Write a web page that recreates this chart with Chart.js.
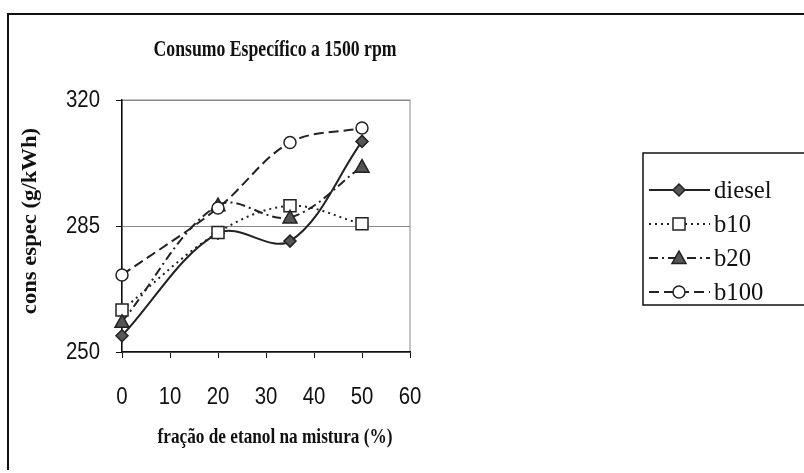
<!DOCTYPE html>
<html>
<head>
<meta charset="utf-8">
<script src="https://cdn.jsdelivr.net/npm/chart.js@4/dist/chart.umd.min.js"></script>
<style>
  html, body { margin: 0; padding: 0; background: #fff; }
  #wrap { width: 804px; height: 473px; }
</style>
</head>
<body>
<div id="wrap"><canvas id="grafico" width="804" height="473"></canvas></div>
<script>
// dados
const etanol = [0, 20, 35, 50];
const diesel = [254.5, 283, 280.8, 308.5];
const b10 = [261.7, 283.2, 290.6, 285.6];
const b20 = [258.4, 290.8, 287.4, 301.5];
const b100 = [271.4, 290.0, 308.2, 312.2];

const ticksX = [0, 10, 20, 30, 40, 50, 60];
const ticksY = [250, 285, 320];

const titulo = 'Consumo Específico a 1500 rpm';
const tituloX = 'fração de etanol na mistura (%)';
const tituloY = 'cons espec (g/kWh)';

const series = [
  { label: 'diesel', data: diesel, dash: [], style: 'rectRot', fill: '#555', radius: 6 },
  { label: 'b10', data: b10, dash: [2, 4], style: 'rect', fill: '#fff', radius: 6 },
  { label: 'b20', data: b20, dash: [9, 4, 2, 4], style: 'triangle', fill: '#555', radius: 7 },
  { label: 'b100', data: b100, dash: [10, 5], style: 'circle', fill: '#fff', radius: 6 }
];

// desenha um marcador simples
function marcador(ctx, s, x, y) {
  const r = s.radius;
  ctx.save();
  ctx.setLineDash([]);
  ctx.fillStyle = s.fill;
  ctx.strokeStyle = '#222';
  ctx.lineWidth = 1.5;
  ctx.beginPath();
  if (s.style === 'rectRot') {
    ctx.moveTo(x, y - r); ctx.lineTo(x + r, y); ctx.lineTo(x, y + r); ctx.lineTo(x - r, y);
    ctx.closePath();
  } else if (s.style === 'rect') {
    ctx.rect(x - r, y - r, 2 * r, 2 * r);
  } else if (s.style === 'triangle') {
    ctx.moveTo(x, y - r); ctx.lineTo(x + r, y + r * 0.8); ctx.lineTo(x - r, y + r * 0.8);
    ctx.closePath();
  } else {
    ctx.arc(x, y, r, 0, Math.PI * 2);
  }
  ctx.fill();
  ctx.stroke();
  ctx.restore();
}

// texto comprimido na horizontal (a fonte do original é estreita)
function texto(ctx, t, x, y, align, sx) {
  ctx.save();
  ctx.translate(x, y);
  ctx.scale(sx, 1);
  ctx.textAlign = align;
  ctx.fillText(t, 0, 0);
  ctx.restore();
}

// moldura, títulos, rótulos e legenda
const extras = {
  id: 'extras',
  beforeDraw(chart) {
    const ctx = chart.ctx;
    const a = chart.chartArea;
    ctx.save();
    ctx.fillStyle = '#fff';
    ctx.fillRect(0, 0, chart.width, chart.height);
    ctx.strokeStyle = '#888';
    ctx.lineWidth = 1;
    ctx.strokeRect(a.left, a.top, a.right - a.left, a.bottom - a.top);
    ctx.restore();
  },
  afterDraw(chart) {
    const ctx = chart.ctx;
    const xs = chart.scales.x, ys = chart.scales.y;
    ctx.save();
    // moldura externa
    ctx.strokeStyle = '#111';
    ctx.lineWidth = 2;
    ctx.beginPath();
    ctx.moveTo(8, 470); ctx.lineTo(8, 14); ctx.lineTo(804, 14);
    ctx.stroke();

    ctx.fillStyle = '#111';
    ctx.textBaseline = 'middle';
    ctx.font = 'bold 23px "Liberation Serif"';
    texto(ctx, titulo, 275, 50, 'center', 0.77);
    ctx.font = 'bold 21px "Liberation Serif"';
    texto(ctx, tituloX, 275, 438, 'center', 0.82);
    ctx.save();
    ctx.translate(30, 221);
    ctx.rotate(-Math.PI / 2);
    ctx.font = 'bold 22px "Liberation Serif"';
    texto(ctx, tituloY, 0, 0, 'center', 1.03);
    ctx.restore();

    // rótulos dos eixos
    ctx.font = '24px "Liberation Sans"';
    ticksX.forEach(v => texto(ctx, String(v), xs.getPixelForValue(v), 397, 'center', 0.85));
    ticksY.forEach(v => texto(ctx, String(v), 100, ys.getPixelForValue(v), 'right', 0.85));

    // legenda
    ctx.strokeStyle = '#111';
    ctx.lineWidth = 1.5;
    ctx.strokeRect(643, 153, 170, 152);
    ctx.font = '26px "Liberation Serif"';
    series.forEach((s, i) => {
      const y = 190 + i * 34;
      ctx.save();
      ctx.strokeStyle = '#222';
      ctx.lineWidth = 2;
      ctx.setLineDash(s.dash);
      ctx.beginPath();
      ctx.moveTo(649, y); ctx.lineTo(710, y);
      ctx.stroke();
      ctx.restore();
      marcador(ctx, s, 679, y);
      ctx.fillStyle = '#111';
      texto(ctx, s.label, 714, y + 1, 'left', 0.95);
    });
    ctx.restore();
  }
};

const ctx = document.getElementById('grafico').getContext('2d');
new Chart(ctx, {
  type: 'line',
  data: {
    datasets: series.map(s => ({
      label: s.label,
      data: s.data.map((v, i) => ({ x: etanol[i], y: v })),
      borderColor: '#222',
      borderWidth: 2,
      borderDash: s.dash,
      tension: 0.35,
      fill: false,
      pointStyle: false,
      pointRadius: 0
    }))
  },
  options: {
    responsive: false,
    animation: false,
    layout: { padding: { left: 62, right: 394, top: 100, bottom: 61 } },
    plugins: {
      legend: { display: false },
      tooltip: { enabled: false },
      title: { display: false }
    },
    scales: {
      x: {
        type: 'linear',
        min: ticksX[0], max: ticksX[ticksX.length - 1],
        afterFit(s) { s.height = 60; },
        ticks: { stepSize: 10, display: false },
        grid: { drawOnChartArea: false, tickLength: 6, color: '#111' },
        border: { color: '#111', width: 1.5 }
      },
      y: {
        min: ticksY[0], max: ticksY[ticksY.length - 1],
        afterFit(s) { s.width = 60; },
        ticks: { stepSize: 35, display: false },
        grid: { color: '#888', tickLength: 6, tickColor: '#111' },
        border: { color: '#111', width: 1.5 }
      }
    }
  },
  plugins: [extras, {
    id: 'marcadores',
    afterDatasetsDraw(chart) {
      const xs = chart.scales.x, ys = chart.scales.y;
      series.forEach(s => {
        s.data.forEach((v, i) => marcador(chart.ctx, s, xs.getPixelForValue(etanol[i]), ys.getPixelForValue(v)));
      });
    }
  }]
});
</script>
</body>
</html>
